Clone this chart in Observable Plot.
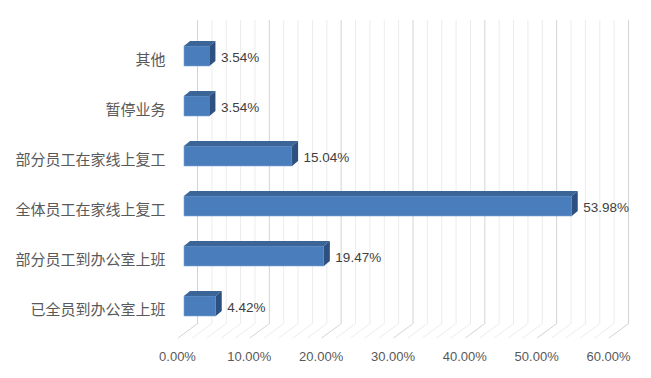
<!DOCTYPE html>
<html><head><meta charset="utf-8">
<script src="https://cdn.jsdelivr.net/npm/d3@7"></script>
<script src="https://cdn.jsdelivr.net/npm/@observablehq/plot@0.6"></script>
<style>body{margin:0;background:#fff}#chart{position:absolute;left:0;top:0}</style>
</head><body><div id="chart"></div>
<script>
const categories = ["其他","暂停业务","部分员工在家线上复工","全体员工在家线上复工","部分员工到办公室上班","已全员到办公室上班"];
const values = [3.54, 3.54, 15.04, 53.98, 19.47, 4.42];
const xTicks = [0, 10, 20, 30, 40, 50, 60];
const data = categories.map((c, i) => ({category: c, value: values[i]}));
const minorGrid = d3.range(0, 61, 2).filter(v => v % 10 !== 0);

const FRONT = "#4a7dbb", TOP = "#3b6597", SIDE = "#2d5080";
const DX = 6, DY = -5;            // bar depth offset
const WALL_DX = 13;                // back wall offset
const FLOOR_DX = -19, FLOOR_DY = 14; // floor slant

const W = 651, H = 378, MT = 20, MB = 54, ML = 184, MR = 36;

function floorLines(index, scales) {
  const g = d3.create("svg:g");
  const yb = H - MB;
  for (const v of minorGrid.concat(xTicks)) {
    const major = xTicks.includes(v);
    const x = scales.x(v) + WALL_DX;
    g.append("line").attr("x1", x).attr("y1", yb).attr("x2", x + FLOOR_DX).attr("y2", yb + FLOOR_DY)
      .attr("stroke", major ? "#d4d4d4" : "#ececec").attr("stroke-width", 1);
  }
  return g.node();
}

function barFaces(index, scales) {
  const g = d3.create("svg:g");
  const bw = typeof scales.y.bandwidth === "function" ? scales.y.bandwidth() : 20;
  for (const d of data) {
    const x0 = scales.x(0), x1 = scales.x(d.value), yt = scales.y(d.category), yb = yt + bw;
    g.append("polygon").attr("points", [[x0, yt], [x0 + DX, yt + DY], [x1 + DX, yt + DY], [x1, yt]].join(" ")).attr("fill", TOP);
    g.append("polygon").attr("points", [[x1, yt], [x1 + DX, yt + DY], [x1 + DX, yb + DY], [x1, yb]].join(" ")).attr("fill", SIDE);
  }
  return g.node();
}

const chart = Plot.plot({
  width: W, height: H,
  marginTop: MT, marginBottom: MB, marginLeft: ML, marginRight: MR,
  style: {fontFamily: "'Liberation Sans', 'Noto Sans CJK SC', sans-serif", background: "#fff"},
  x: {domain: [0, 60]},
  y: {type: "band", domain: categories, range: [29.75, 332.75], paddingInner: 0.604, paddingOuter: 0.302},
  marks: [
    Plot.ruleX(minorGrid, {dx: WALL_DX, stroke: "#ececec"}),
    Plot.ruleX(xTicks, {dx: WALL_DX, stroke: "#d4d4d4"}),
    floorLines,
    Plot.barX(data, {x: "value", y: "category", fill: FRONT, stroke: "#7fa3d2", strokeWidth: 0.6}),
    barFaces,
    Plot.text(data, {x: "value", y: "category", text: d => d.value.toFixed(2) + "%", textAnchor: "start", dx: 11, dy: 1, fontSize: 13.5, fill: "#404040"}),
    Plot.axisY({tickSize: 0, tickPadding: 19, dy: 4, fontSize: 15, color: "#595959", label: null, fontFamily: "'Noto Sans CJK SC', sans-serif"}),
    Plot.axisX({ticks: xTicks, tickFormat: d => d.toFixed(2) + "%", tickSize: 0, tickPadding: 27, dx: -7, fontSize: 13, color: "#595959", label: null})
  ]
});
document.getElementById("chart").append(chart);
</script></body></html>
